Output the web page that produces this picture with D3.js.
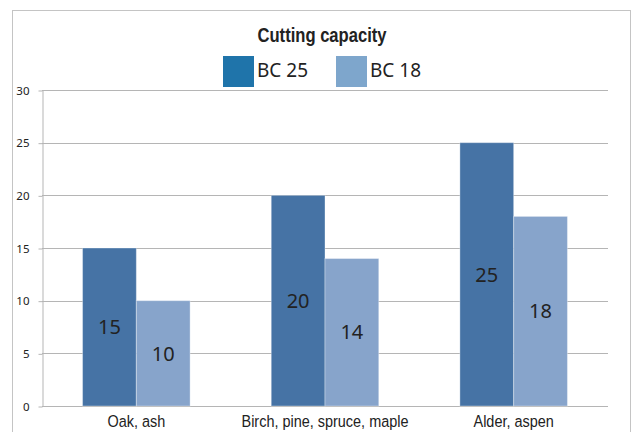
<!DOCTYPE html>
<html><head><meta charset="utf-8">
<script src="https://cdn.jsdelivr.net/npm/d3@7"></script>
<style>
html,body{margin:0;padding:0;background:#fff;overflow:hidden;}
svg{display:block;}
</style></head>
<body>
<svg id="chart" width="631" height="432"></svg>
<script>
const title = "Cutting capacity";
const categories = ["Oak, ash", "Birch, pine, spruce, maple", "Alder, aspen"];
const seriesNames = ["BC 25", "BC 18"];
const bc25 = [15, 20, 25];
const bc18 = [10, 14, 18];
const yTicks = [0, 5, 10, 15, 20, 25, 30];

const barColors = ["#4673a5", "#87a4cb"];
const legendColors = ["#1f74aa", "#7ea6cc"];
const values = [bc25, bc18];

const svg = d3.select("#chart");
const plot = {left: 42, right: 608, top: 90, bottom: 406};
const condensedFont = "'Liberation Sans', Arial, sans-serif";

// outer frame
svg.append("rect").attr("x", 12.5).attr("y", 10.5).attr("width", 618).attr("height", 440)
  .attr("fill", "#fff").attr("stroke", "#c4c4c4").attr("stroke-width", 1);

const y = d3.scaleLinear().domain([0, 30]).range([plot.bottom, plot.top]);
const x0 = d3.scaleBand().domain(categories).range([plot.left, plot.right])
  .paddingInner(0.43).paddingOuter(0.215);
const x1 = d3.scaleBand().domain(seriesNames).range([0, x0.bandwidth()]).padding(0);

// gridlines
svg.append("g").selectAll("line").data(yTicks).join("line")
  .attr("x1", plot.left).attr("x2", plot.right)
  .attr("y1", d => Math.round(y(d)) + 0.5).attr("y2", d => Math.round(y(d)) + 0.5)
  .attr("stroke", "#b5b5b5").attr("stroke-width", 1);

// y axis
const yAxis = svg.append("g").attr("transform", `translate(${plot.left + 0.5},0.5)`)
  .call(d3.axisLeft(y).tickValues(yTicks).tickSize(4).tickPadding(9).tickSizeOuter(0));
yAxis.select(".domain").attr("stroke", "#b5b5b5");
yAxis.selectAll(".tick line").attr("stroke", "#b5b5b5");
yAxis.selectAll(".tick text").attr("font-family", "'Noto Sans', sans-serif")
  .attr("font-size", 11.5).attr("fill", "#222");

// bars
const groups = svg.append("g").selectAll("g").data(categories).join("g")
  .attr("transform", d => `translate(${x0(d)},0)`);
const cells = (c, i) => seriesNames.map((s, si) => ({s, si, v: values[si][i]}));
groups.selectAll("rect").data(cells).join("rect")
  .attr("x", d => x1(d.s)).attr("width", x1.bandwidth())
  .attr("y", d => y(d.v)).attr("height", d => y(0) - y(d.v))
  .attr("fill", d => barColors[d.si])
  .attr("stroke", "rgba(255,255,255,0.35)").attr("stroke-width", 1);
groups.selectAll("text").data(cells).join("text")
  .attr("x", d => x1(d.s) + x1.bandwidth() / 2)
  .attr("y", d => (y(d.v) + y(0)) / 2)
  .attr("dy", "0.36em")
  .attr("text-anchor", "middle")
  .attr("font-family", "'Noto Sans', sans-serif").attr("font-size", 20)
  .attr("fill", "#222").text(d => d.v);

// category labels (horizontally condensed)
svg.append("g").selectAll("g").data(categories).join("g")
  .attr("transform", d => `translate(${x0(d) + x0.bandwidth() / 2},427) scale(0.85,1)`)
  .append("text")
  .attr("text-anchor", "middle")
  .attr("font-family", condensedFont)
  .attr("font-size", 17).attr("fill", "#222").text(d => d);

// title
svg.append("g").attr("transform", "translate(322,42) scale(0.83,1)")
  .append("text").attr("text-anchor", "middle")
  .attr("font-family", condensedFont)
  .attr("font-weight", "bold").attr("font-size", 20).attr("fill", "#222").text(title);

// legend
const legendX = [223, 336];
const lg = svg.append("g").selectAll("g").data(seriesNames).join("g")
  .attr("transform", (d, i) => `translate(${legendX[i]},56)`);
lg.append("rect").attr("width", 31).attr("height", 31).attr("fill", (d, i) => legendColors[i]);
lg.append("text").attr("x", 34).attr("y", 21).attr("font-family", "'Noto Sans', sans-serif")
  .attr("font-size", 19).attr("fill", "#222").text(d => d);
</script>
</body></html>
